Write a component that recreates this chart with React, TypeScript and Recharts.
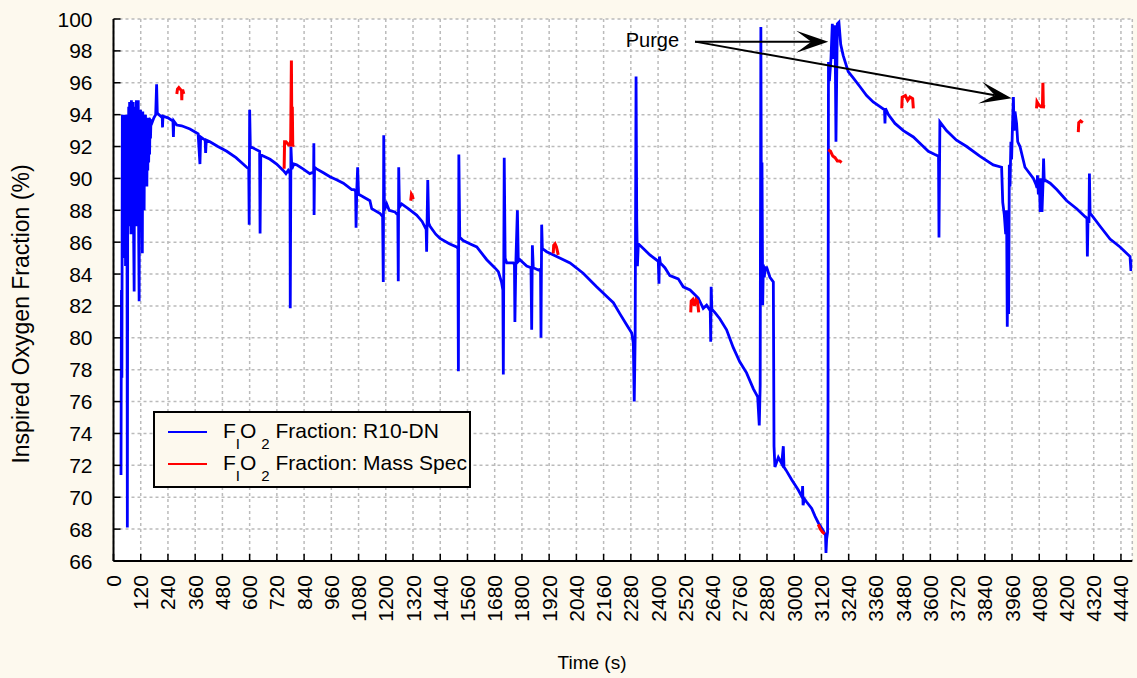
import React from "react";
import {
  LineChart,
  Line,
  XAxis,
  YAxis,
  CartesianGrid,
  Legend,
  ReferenceLine,
  ReferenceDot,
} from "recharts";

const FONT = "'Liberation Sans', Arial, sans-serif";
const BG = "#FDF9EE";

const xTicks = [
  0, 120, 240, 360, 480, 600, 720, 840, 960, 1080, 1200, 1320, 1440, 1560, 1680,
  1800, 1920, 2040, 2160, 2280, 2400, 2520, 2640, 2760, 2880, 3000, 3120, 3240,
  3360, 3480, 3600, 3720, 3840, 3960, 4080, 4200, 4320, 4440,
];
const yTicks = [66, 68, 70, 72, 74, 76, 78, 80, 82, 84, 86, 88, 90, 92, 94, 96, 98, 100];

// R10-DN sensor, [time s, FiO2 %]
const r10Warmup: [number, number][] = [
  [33, 71.4], [35, 83.0], [37, 77.5], [39, 94.0], [41, 86.0], [43, 94.0], [45, 85.0],
  [47, 94.0], [49, 86.5], [51, 93.8], [53, 84.5], [55, 94.0], [57, 87.0], [59, 92.5],
  [61, 68.1], [63, 92.0], [65, 88.0], [67, 94.5], [69, 87.0], [71, 94.8], [73, 89.0],
  [75, 94.6], [77, 86.5], [79, 94.9], [81, 88.5], [83, 94.2], [85, 87.5], [87, 94.8],
  [89, 86.0], [91, 82.9], [93, 94.5], [95, 88.0], [97, 94.0], [99, 89.0], [101, 94.9],
  [103, 87.0], [105, 94.3], [107, 88.5], [109, 94.9], [111, 86.5], [113, 82.3],
  [115, 94.0], [117, 88.0], [119, 94.3], [121, 87.5], [123, 93.9], [125, 88.5],
  [127, 85.3], [129, 94.2], [131, 89.0], [133, 94.0], [135, 88.0], [137, 93.9],
  [139, 89.5], [141, 94.0], [143, 90.0], [145, 93.8], [147, 89.5], [149, 93.7],
  [151, 90.5], [153, 93.8], [155, 91.0], [157, 93.6], [159, 91.5], [161, 93.7],
  [163, 92.5], [165, 93.6], [170, 93.5], [178, 93.8], [186, 94.0], [190, 95.9],
  [193, 94.1], [200, 94.0], [208, 93.9],
];
const r10Decline1: [number, number][] = [
  [215, 93.8], [216, 93.2], [218, 93.9], [240, 93.8], [262, 93.6], [264, 92.6],
  [266, 93.6], [279, 93.35], [300, 93.3], [337, 93.1], [373, 92.8], [381, 90.9],
  [384, 92.6], [404, 92.4], [406, 91.6], [409, 92.4], [425, 92.3], [460, 92.0],
  [499, 91.7], [540, 91.3], [587, 90.7], [596, 90.6], [598, 87.1], [600, 94.3],
  [603, 92.0], [616, 91.9], [644, 91.7], [646, 86.55], [649, 91.5], [660, 91.4],
  [690, 91.2], [719, 90.9], [748, 90.5], [760, 90.3], [770, 90.5], [778, 90.3],
  [779, 81.85], [782, 92.0], [786, 90.6], [795, 90.9], [807, 90.85], [835, 90.6],
  [865, 90.3], [882, 90.4], [883, 92.2], [884, 87.7], [886, 90.7], [895, 90.6],
  [925, 90.35], [954, 90.1], [985, 89.9], [1013, 89.7], [1050, 89.3], [1060, 89.3],
  [1067, 89.2], [1069, 86.9], [1072, 89.2], [1076, 90.7], [1080, 89.0], [1094, 88.9],
  [1130, 88.6], [1138, 88.1], [1175, 87.8], [1186, 87.6], [1189, 83.5], [1191, 92.7],
  [1194, 88.0], [1204, 88.4], [1215, 88.0], [1240, 87.9], [1253, 87.7], [1255, 83.55],
  [1257, 90.7], [1260, 88.2], [1270, 88.4], [1299, 88.1], [1336, 87.7], [1360, 87.3],
  [1378, 86.8], [1380, 85.4], [1385, 89.9], [1389, 87.2], [1395, 87.0], [1420, 86.5],
  [1439, 86.24], [1480, 85.9], [1512, 85.7], [1518, 85.6], [1520, 77.9], [1522, 91.5],
  [1526, 86.3], [1541, 86.1], [1570, 85.9], [1601, 85.7], [1645, 84.9], [1680, 84.4],
  [1696, 84.15], [1710, 83.5], [1716, 83.0], [1718, 77.7], [1722, 91.3], [1726, 85.0],
  [1733, 84.7], [1762, 84.7], [1767, 84.6], [1769, 81.0], [1773, 84.6], [1780, 88.0],
  [1784, 84.8], [1791, 84.9], [1821, 84.5], [1840, 84.4], [1843, 80.5], [1846, 85.8],
  [1850, 84.4], [1872, 84.25], [1882, 84.3], [1884, 80.0], [1887, 87.1], [1890, 85.6],
  [1909, 85.4], [1953, 85.1], [2012, 84.7], [2070, 84.05], [2129, 83.2], [2188, 82.4],
  [2203, 82.2], [2232, 81.5], [2262, 80.8], [2284, 80.3], [2291, 79.65], [2295, 76.0],
  [2299, 80.0],
];
const r10Decline2: [number, number][] = [
  [2303, 96.4], [2306, 87.4], [2309, 84.5], [2313, 85.9], [2328, 85.7], [2364, 85.2],
  [2401, 84.8], [2404, 83.4], [2406, 85.1], [2410, 84.7], [2430, 84.4], [2452, 83.9],
  [2489, 83.7], [2511, 83.2], [2541, 83.0], [2577, 82.5], [2599, 81.85], [2614, 82.05],
  [2630, 81.7], [2632, 79.75], [2634, 83.2], [2637, 81.8], [2650, 81.6], [2672, 81.2],
  [2702, 80.5], [2731, 79.4], [2760, 78.5], [2790, 77.8], [2820, 76.8], [2839, 76.3],
  [2846, 74.5], [2850, 77.0], [2853, 99.5], [2856, 84.0], [2858, 91.0], [2861, 82.05],
  [2864, 84.6], [2868, 83.8], [2872, 84.4], [2879, 84.4], [2893, 83.8], [2908, 83.5],
  [2911, 73.2], [2915, 71.9], [2930, 72.5], [2945, 72.1], [2952, 73.2], [2955, 71.9],
  [2964, 71.7], [2989, 71.1], [3018, 70.45], [3035, 70.0], [3037, 70.7], [3039, 69.5],
  [3045, 69.9], [3055, 69.7], [3077, 69.3], [3092, 68.8], [3106, 68.4], [3128, 67.9],
  [3138, 67.6], [3140, 66.5], [3143, 67.4], [3147, 67.8],
];
const r10Purge: [number, number][] = [
  [3149, 75.9], [3151, 97.3], [3155, 96.1], [3162, 97.5], [3168, 99.7], [3172, 97.5],
  [3180, 99.6], [3184, 92.3], [3190, 99.7], [3197, 99.8], [3205, 98.4], [3216, 97.7],
  [3238, 96.7], [3260, 96.3], [3290, 95.75], [3319, 95.2], [3348, 94.8], [3378, 94.5],
  [3398, 94.3], [3400, 93.45], [3402, 94.4], [3415, 94.0], [3444, 93.45], [3481, 93.0],
  [3525, 92.6], [3562, 92.1], [3591, 91.7], [3620, 91.5], [3636, 91.4], [3638, 86.3],
  [3642, 93.55], [3671, 93.0], [3715, 92.4], [3760, 92.0], [3818, 91.4], [3877, 90.85],
  [3914, 90.7], [3919, 88.5], [3926, 87.7], [3932, 86.5], [3936, 88.0], [3939, 80.7],
  [3942, 86.0], [3945, 81.5], [3948, 90.85], [3951, 89.5], [3955, 92.3], [3958, 91.2],
  [3962, 93.3], [3966, 95.1], [3969, 93.0], [3973, 94.2], [3980, 93.45], [3985, 92.3],
  [3995, 92.0], [4017, 90.7], [4054, 90.0], [4066, 89.6], [4070, 89.4], [4072, 90.2],
  [4076, 89.0], [4080, 90.0], [4084, 87.9], [4088, 90.0], [4092, 87.9], [4096, 89.5],
  [4099, 91.25], [4102, 89.8], [4105, 89.9], [4128, 89.7], [4157, 89.3], [4201, 88.6],
  [4245, 88.1], [4282, 87.6], [4290, 87.5], [4292, 85.1], [4295, 87.6], [4299, 87.2],
  [4301, 90.3], [4304, 87.8], [4311, 87.7], [4348, 87.0], [4392, 86.2], [4436, 85.7],
  [4480, 85.1], [4484, 84.2], [4487, 84.9], [4489, 84.7],
];

// Mass spectrometer reference, short sampled segments
const massSpecSegments: [number, number][][] = [
  [[279, 95.3], [282, 95.6], [288, 95.7], [294, 95.6], [300, 95.5], [301, 94.9], [302, 95.5], [306, 95.5], [310, 95.3]],
  [[752, 90.6], [754, 92.3], [760, 92.3], [766, 92.2], [772, 92.1], [778, 92.1], [781, 92.4], [784, 97.4], [786, 92.6], [788, 94.5], [790, 92.0], [793, 92.1]],
  [[1310, 88.6], [1313, 89.0], [1317, 88.9], [1321, 88.7]],
  [[1938, 85.3], [1940, 85.8], [1946, 85.9], [1952, 85.7], [1960, 85.2]],
  [[2544, 81.6], [2546, 82.3], [2553, 82.4], [2560, 82.0], [2567, 82.4], [2574, 82.3], [2579, 81.6]],
  [[3106, 68.3], [3115, 68.0], [3125, 67.8], [3134, 67.7]],
  [[3150, 91.8], [3160, 91.7], [3170, 91.4], [3180, 91.3], [3190, 91.1], [3200, 91.1], [3209, 91.0]],
  [[3474, 94.4], [3476, 95.1], [3490, 95.2], [3500, 94.9], [3510, 95.1], [3522, 95.0], [3525, 94.4]],
  [[4068, 94.4], [4070, 94.8], [4078, 94.6], [4088, 94.5], [4094, 94.5], [4096, 96.0], [4098, 94.4], [4100, 94.6]],
  [[4252, 92.9], [4254, 93.5], [4262, 93.6], [4272, 93.5]],
];

const r10dn = [...r10Warmup, ...r10Decline1, ...r10Decline2, ...r10Purge].map(([t, v]) => ({ t, v }));
const massSpec: { t: number; v: number | null }[] = [];
massSpecSegments.forEach((seg) => {
  seg.forEach(([t, v]) => massSpec.push({ t, v }));
  massSpec.push({ t: seg[seg.length - 1][0] + 1, v: null });
});

// purge arrows: from the label to the two purge peaks
const purgeFrom = { x: 2563, y: 98.58 };
const purgeTargets = [
  { x: 3150, y: 98.58 },
  { x: 3958, y: 95.03 },
];

const BottomTick = ({ x, y, payload }: any) => (
  <g>
    <line x1={x} y1={y} x2={x} y2={y - 7} stroke="#000" strokeWidth={1.5} />
    <text
      x={x}
      y={y + 14}
      transform={`rotate(-90 ${x} ${y + 14})`}
      textAnchor="end"
      dominantBaseline="central"
      fontSize={21}
      fontFamily={FONT}
      fill="#000"
    >
      {payload.value}
    </text>
  </g>
);

const LeftTick = ({ x, y, payload }: any) => (
  <g>
    <line x1={x} y1={y} x2={x + 7} y2={y} stroke="#000" strokeWidth={1.5} />
    <text x={x - 21} y={y} textAnchor="end" dominantBaseline="central" fontSize={21} fontFamily={FONT} fill="#000">
      {payload.value}
    </text>
  </g>
);

const TopTick = ({ x, y }: any) => <line x1={x} y1={y} x2={x} y2={y + 7} stroke="#000" strokeWidth={1.5} />;
const RightTick = ({ x, y }: any) => <line x1={x} y1={y} x2={x - 7} y2={y} stroke="#000" strokeWidth={1.5} />;

const Arrow = ({ x1, y1, x2, y2 }: any) => {
  const a = Math.atan2(y2 - y1, x2 - x1);
  const len = 32;
  const half = 11;
  const notch = 17;
  const c = Math.cos(a);
  const s = Math.sin(a);
  const bx = x2 - len * c;
  const by = y2 - len * s;
  const nx = x2 - notch * c;
  const ny = y2 - notch * s;
  const pts = [
    [x2, y2],
    [bx - half * s, by + half * c],
    [nx, ny],
    [bx + half * s, by - half * c],
  ]
    .map((p) => p.join(","))
    .join(" ");
  return (
    <g>
      <line x1={x1} y1={y1} x2={nx} y2={ny} stroke="#000" strokeWidth={2} />
      <polygon points={pts} fill="#000" />
    </g>
  );
};

const LegendBox = () => {
  const sub = 15;
  return (
    <svg width={318} height={77} style={{ display: "block" }}>
      <rect x={1} y={1} width={316} height={75} fill={BG} stroke="#000" strokeWidth={2} />
      {[
        { color: "#0000FF", name: "Fraction: R10-DN", y: 21 },
        { color: "#FF0000", name: "Fraction: Mass Spec", y: 53 },
      ].map((r) => (
        <g key={r.name}>
          <line x1={15} y1={r.y} x2={54} y2={r.y} stroke={r.color} strokeWidth={2} />
          <text x={70} y={r.y + 6} fontSize={21} fontFamily={FONT} fill="#000">
            F
            <tspan fontSize={sub} dy={11}>I</tspan>
            <tspan dy={-11}>O</tspan>
            <tspan fontSize={sub} dy={11} dx={5}>2</tspan>
            <tspan dy={-11}>{" " + r.name}</tspan>
          </text>
        </g>
      ))}
    </svg>
  );
};

export default function App() {
  return (
    <div style={{ position: "fixed", left: 0, top: 0, width: 1137, height: 678, background: BG }}>
      <LineChart width={1137} height={678} margin={{ top: 19, right: 4.7, bottom: 0, left: 0 }}>
        <CartesianGrid
          xAxisId="b"
          yAxisId="l"
          stroke="#BBBBBB"
          strokeWidth={1.5}
          strokeDasharray="3 3"
          fill="#FFFFFF"
          fillOpacity={1}
        />
        <XAxis
          xAxisId="b"
          dataKey="t"
          type="number"
          domain={[0, 4490]}
          allowDataOverflow
          ticks={xTicks}
          interval={0}
          height={117}
          tickSize={0}
          tickMargin={0}
          tickLine={false}
          tick={BottomTick}
          axisLine={{ stroke: "#000", strokeWidth: 2 }}
          label={(p: any) => {
            const vb = p.viewBox || { x: 113.5, y: 561, width: 1019, height: 117 };
            return (
              <text x={592} y={vb.y + 108} textAnchor="middle" fontSize={19} fontFamily={FONT} fill="#000">
                Time (s)
              </text>
            );
          }}
        />
        <XAxis
          xAxisId="top"
          orientation="top"
          type="number"
          domain={[0, 4490]}
          allowDataOverflow
          ticks={xTicks}
          interval={0}
          height={0}
          tickSize={0}
          tickMargin={0}
          tickLine={false}
          tick={TopTick}
          axisLine={{ stroke: "#000", strokeWidth: 2 }}
        />
        <YAxis
          yAxisId="l"
          type="number"
          domain={[66, 100]}
          allowDataOverflow
          ticks={yTicks}
          interval={0}
          width={113.5}
          tickSize={0}
          tickMargin={0}
          tickLine={false}
          tick={LeftTick}
          axisLine={{ stroke: "#000", strokeWidth: 2 }}
          label={(p: any) => {
            const vb = p.viewBox || { x: 0, y: 19, width: 113.5, height: 542 };
            const cy = vb.y + vb.height / 2 + 24;
            return (
              <text
                x={21}
                y={cy}
                transform={`rotate(-90 21 ${cy})`}
                textAnchor="middle"
                dominantBaseline="central"
                fontSize={23}
                fontFamily={FONT}
                fill="#000"
              >
                Inspired Oxygen Fraction (%)
              </text>
            );
          }}
        />
        <YAxis
          yAxisId="r"
          orientation="right"
          type="number"
          domain={[66, 100]}
          allowDataOverflow
          ticks={yTicks}
          interval={0}
          width={0}
          tickSize={0}
          tickMargin={0}
          tickLine={false}
          tick={RightTick}
          axisLine={{ stroke: "#000", strokeWidth: 2 }}
        />
        <Line
          xAxisId="b"
          yAxisId="l"
          data={r10dn}
          dataKey="v"
          name="R10-DN"
          type="linear"
          stroke="#0000FF"
          strokeWidth={2.8}
          dot={false}
          activeDot={false}
          isAnimationActive={false}
        />
        <Line
          xAxisId="b"
          yAxisId="l"
          data={massSpec}
          dataKey="v"
          name="Mass Spec"
          type="linear"
          stroke="#FF0000"
          strokeWidth={3}
          dot={false}
          activeDot={false}
          connectNulls={false}
          isAnimationActive={false}
        />
        {purgeTargets.map((tg, i) => (
          <ReferenceLine
            key={i}
            xAxisId="b"
            yAxisId="l"
            segment={[purgeFrom, tg]}
            ifOverflow="visible"
            shape={Arrow}
          />
        ))}
        <ReferenceDot
          xAxisId="b"
          yAxisId="l"
          x={2375}
          y={98.22}
          ifOverflow="visible"
          shape={(p: any) => (
            <text x={p.cx} y={p.cy} textAnchor="middle" fontSize={20} fontFamily={FONT} fill="#000">
              Purge
            </text>
          )}
        />
        <Legend
          layout="horizontal"
          verticalAlign="middle"
          align="center"
          wrapperStyle={{ left: 153, top: 411, width: 318, height: 77 }}
          content={() => <LegendBox />}
        />
      </LineChart>
    </div>
  );
}
